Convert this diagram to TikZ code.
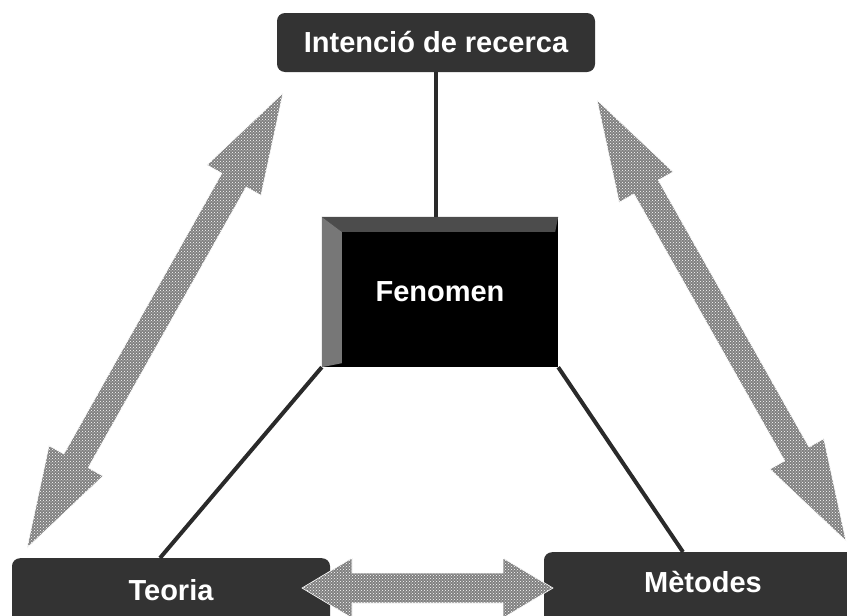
\documentclass[tikz,border=0pt]{standalone}
\usepackage{fontspec}
\setmainfont{Liberation Sans}
\usetikzlibrary{calc,patterns}
\definecolor{boxgray}{HTML}{333333}
\definecolor{linegray}{HTML}{2A2A2A}
\definecolor{arrowgray}{HTML}{808080}
\definecolor{bevtop}{HTML}{4C4C4C}
\definecolor{bevleft}{HTML}{777777}
\newcommand\DblArrow[5]{%
  \path[bigarrow] (#1)
    -- ($(#1)!#3!(#2)!#4!90:(#2)$)
    -- ($(#1)!#3!(#2)!#5!90:(#2)$)
    -- ($(#2)!#3!(#1)!#5!-90:(#1)$)
    -- ($(#2)!#3!(#1)!#4!-90:(#1)$)
    -- (#2)
    -- ($(#2)!#3!(#1)!#4!90:(#1)$)
    -- ($(#2)!#3!(#1)!#5!90:(#1)$)
    -- ($(#1)!#3!(#2)!#5!-90:(#2)$)
    -- ($(#1)!#3!(#2)!#4!-90:(#2)$)
    -- cycle;}
\begin{document}
\begin{tikzpicture}[x=1pt,y=-1pt,
  darkbox/.style={draw=none, fill=boxgray, rounded corners=8pt, text=white,
    font=\bfseries\fontsize{29}{34}\selectfont, inner sep=0pt},
  fenbox/.style={draw=none, fill=black, text=white,
    font=\bfseries\fontsize{29}{34}\selectfont, inner sep=0pt,
    minimum width=236pt, minimum height=150pt},
  link/.style={draw=linegray, line width=4pt},
  bigarrow/.style={preaction={fill=arrowgray}, pattern=crosshatch dots,
    pattern color=white, draw=white, line width=0.6pt}]
\useasboundingbox (0,0) rectangle (847,616);
% boxes
\node[darkbox, minimum width=318pt, minimum height=59pt] (intencio) at (436,42.5) {Intenció de recerca};
\node[fenbox] (fen) at (440,292) {Fenomen};
\fill[bevtop] (fen.north west) -- (fen.north east) -- ($(fen.north east)+(-3,15)$)
  -- ($(fen.north west)+(20,15)$) -- cycle;
\fill[bevleft] (fen.north west) -- ($(fen.north west)+(20,15)$)
  -- ($(fen.south west)+(20,-4)$) -- (fen.south west) -- cycle;
\node[darkbox, anchor=north, minimum width=318pt, text height=42pt, text depth=40pt] (teoria) at (171,558) {Teoria};
\node[darkbox, anchor=north, minimum width=318pt, text height=40pt, text depth=40pt] (metodes) at (703,552) {Mètodes};
% connectors
\coordinate (tt) at (160,558);
\coordinate (mt) at (683,552);
\draw[link] (intencio.south) -- (fen.north -| intencio.south);
\draw[link] (fen.south west) -- (tt);
\draw[link] (fen.south east) -- (mt);
% big double arrows
\coordinate (la) at (283,93);
\coordinate (lb) at (27,548);
\coordinate (ra) at (597,100);
\coordinate (rb) at (846,541);
\coordinate (ha) at (302,588);
\coordinate (hb) at (553,588);
\DblArrow{la}{lb}{100pt}{31pt}{14pt}
\DblArrow{ra}{rb}{100pt}{31pt}{14pt}
\DblArrow{ha}{hb}{50pt}{30pt}{15pt}
\end{tikzpicture}
\end{document}
